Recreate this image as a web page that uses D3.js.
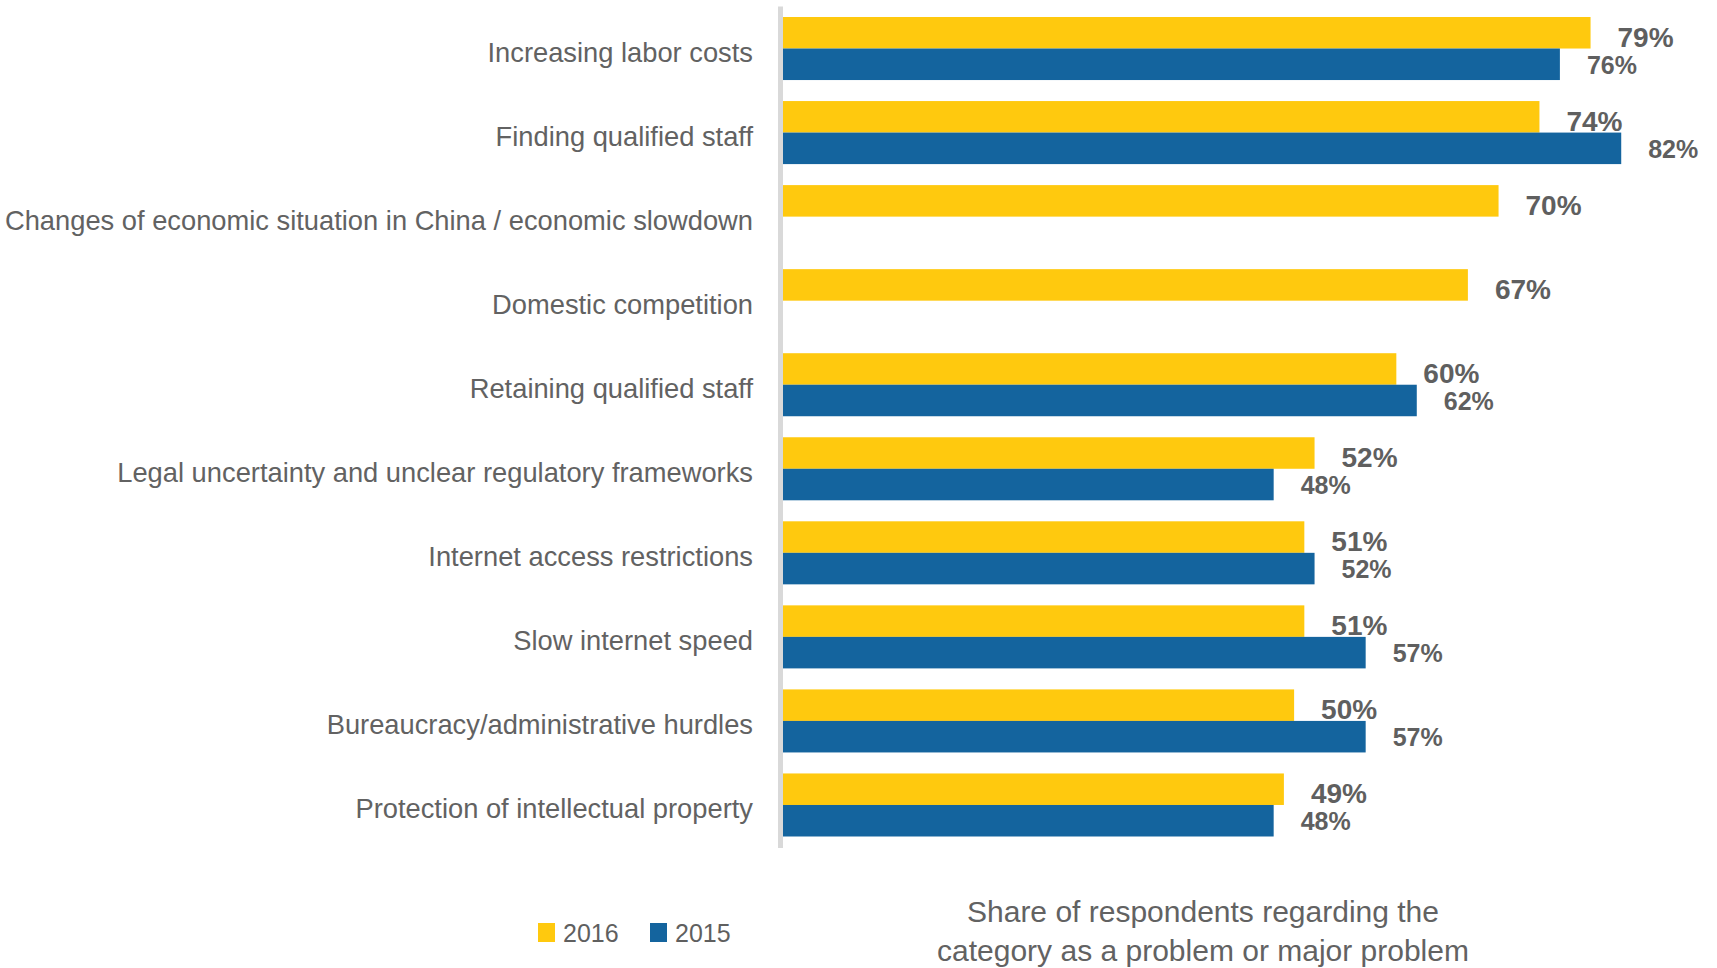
<!DOCTYPE html>
<html>
<head>
<meta charset="utf-8">
<script src="https://cdn.jsdelivr.net/npm/d3@7"></script>
<style>
  body { margin: 0; background: #fff; }
  .cat-label { font-family: "Liberation Sans", Arial, sans-serif; font-size: 27.3px; fill: #626262; }
  .val-label { font-family: "Liberation Sans", Arial, sans-serif; font-weight: bold; fill: #5f5f5f; }
  .legend-text { font-family: "Liberation Sans", Arial, sans-serif; font-size: 25px; fill: #5f5f5f; }
  .axis-title { font-family: "Liberation Sans", Arial, sans-serif; font-size: 30px; fill: #626262; }
</style>
</head>
<body>
<svg width="1717" height="968"></svg>
<script>
var categories = [
  "Increasing labor costs",
  "Finding qualified staff",
  "Changes of economic situation in China / economic slowdown",
  "Domestic competition",
  "Retaining qualified staff",
  "Legal uncertainty and unclear regulatory frameworks",
  "Internet access restrictions",
  "Slow internet speed",
  "Bureaucracy/administrative hurdles",
  "Protection of intellectual property"
];

var values2016 = [79, 74, 70, 67, 60, 52, 51, 51, 50, 49];
var values2015 = [76, 82, null, null, 62, 48, 52, 57, 57, 48];

var seriesNames = ["2016", "2015"];
var seriesColors = ["#ffc90e", "#14649e"];

var axisTitle = ["Share of respondents regarding the", "category as a problem or major problem"];

var svg = d3.select("svg"),
    width = +svg.attr("width"),
    height = +svg.attr("height");

var plotLeft = 783,
    plotTop = 6.5,
    plotBottom = 847;

var x = d3.scaleLinear()
    .domain([0, 90])
    .range([plotLeft, plotLeft + 920]);

var y = d3.scaleBand()
    .domain(categories)
    .range([plotTop, plotBottom])
    .paddingInner(0.25)
    .paddingOuter(0.125);

var ySeries = d3.scaleBand()
    .domain(seriesNames)
    .range([0, y.bandwidth()]);

var rows = categories.map(function(c, i) {
  return { cat: c, values: [
    { key: "2016", value: values2016[i] },
    { key: "2015", value: values2015[i] }
  ]};
});

// bars
var groups = svg.append("g")
    .attr("class", "bars")
  .selectAll("g")
  .data(rows)
  .enter().append("g")
    .attr("transform", function(d) { return "translate(0," + y(d.cat) + ")"; });

groups.selectAll("rect")
  .data(function(d) { return d.values.filter(function(v) { return v.value != null; }); })
  .enter().append("rect")
    .attr("x", x(0))
    .attr("y", function(d) { return ySeries(d.key); })
    .attr("width", function(d) { return x(d.value) - x(0); })
    .attr("height", ySeries.bandwidth())
    .attr("fill", function(d) { return seriesColors[seriesNames.indexOf(d.key)]; });

// value labels
groups.selectAll("text")
  .data(function(d) { return d.values.filter(function(v) { return v.value != null; }); })
  .enter().append("text")
    .attr("class", "val-label")
    .attr("x", function(d) { return x(d.value) + 27; })
    .attr("y", function(d) {
      var mid = ySeries(d.key) + ySeries.bandwidth() / 2;
      return d.key == "2016" ? mid + 14 : mid + 9.5;
    })
    .style("font-size", function(d) { return d.key == "2016" ? "28px" : "25px"; })
    .text(function(d) { return d.value + "%"; });

// vertical axis line
svg.append("line")
    .attr("x1", x(0) - 2.5)
    .attr("x2", x(0) - 2.5)
    .attr("y1", plotTop)
    .attr("y2", plotBottom + 1)
    .attr("stroke", "#d9d9d9")
    .attr("stroke-width", 5);

// category labels
svg.append("g")
  .selectAll("text")
  .data(categories)
  .enter().append("text")
    .attr("class", "cat-label")
    .attr("x", 753)
    .attr("y", function(d) { return y(d) + y.bandwidth() / 2 + 13.5; })
    .attr("text-anchor", "end")
    .text(function(d) { return d; });

// legend
var legend = svg.append("g")
  .selectAll("g")
  .data(seriesNames)
  .enter().append("g")
    .attr("transform", function(d, i) { return "translate(" + (538 + i * 112) + ",923)"; });

legend.append("rect")
    .attr("width", 17)
    .attr("height", 19)
    .attr("fill", function(d, i) { return seriesColors[i]; });

legend.append("text")
    .attr("class", "legend-text")
    .attr("x", 25)
    .attr("y", 19)
    .text(function(d) { return d; });

// axis title
svg.append("text")
    .attr("class", "axis-title")
    .attr("text-anchor", "middle")
  .selectAll("tspan")
  .data(axisTitle)
  .enter().append("tspan")
    .attr("x", 1203)
    .attr("y", function(d, i) { return 922 + i * 39; })
    .text(function(d) { return d; });
</script>
</body>
</html>
